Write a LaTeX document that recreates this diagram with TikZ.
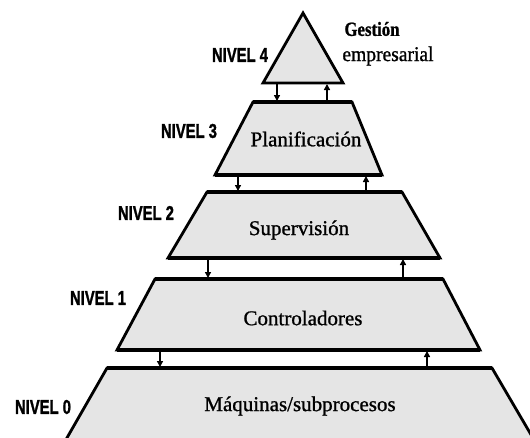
\documentclass[tikz,border=0pt]{standalone}
\usepackage{fontspec}
\setmainfont{Liberation Serif}[BoldFeatures={FakeBold=1.2}]
\newfontfamily\lblfont{Liberation Sans}[BoldFeatures={FakeBold=1.6}]
\newfontfamily\txtfont[FakeBold=1.0]{Liberation Serif}
\usetikzlibrary{arrows.meta}
\definecolor{layerfill}{gray}{0.90}
\tikzset{
  layer/.style={draw=black, line width=2.8pt, fill=layerfill, line join=miter},
  edgeline/.style={draw=black, line width=3.4pt},
  flow/.style={draw=black, line width=1.4pt, -{Triangle[length=6pt,width=6pt]}},
  lvl/.style={font=\lblfont\bfseries\fontsize{20}{22}\selectfont, inner sep=0pt},
  ttl/.style={font=\txtfont\fontsize{21}{23}\selectfont, inner sep=0pt}
}
\newcommand{\narrow}[1]{\scalebox{0.74}[1]{#1}}
\begin{document}
\begin{tikzpicture}[x=1pt,y=-1pt]
\useasboundingbox (0,0) rectangle (530,437);
\begin{scope}
\clip (0,0) rectangle (530,437);
% level 4 triangle
\path[layer] (303,13) -- (343,83) -- (263,83) -- cycle;
% level 3
\path[layer] (253,102) -- (352,102) -- (382,175) -- (215,175) -- cycle;
\draw[edgeline] (253,102) -- (352,102);
\draw[edgeline] (215,175) -- (382,175);
% level 2
\path[layer] (207,192) -- (402,192) -- (440,258) -- (168,258) -- cycle;
\draw[edgeline] (207,192) -- (402,192);
\draw[edgeline] (168,258) -- (440,258);
% level 1
\path[layer] (155,279) -- (443,279) -- (480,350) -- (117,350) -- cycle;
\draw[edgeline] (155,279) -- (443,279);
\draw[edgeline] (117,350) -- (480,350);
% level 0
\path[layer] (107,368) -- (492,368) -- (540,450) -- (60,450) -- cycle;
\draw[edgeline] (107,368) -- (492,368);
\end{scope}
% connector end points
\coordinate (a4d) at (277,84);  \coordinate (b3d) at (277,101);
\coordinate (a4u) at (327,84);  \coordinate (b3u) at (327,101);
\coordinate (a3d) at (238,176); \coordinate (b2d) at (238,191);
\coordinate (a3u) at (366,176); \coordinate (b2u) at (366,191);
\coordinate (a2d) at (208,259); \coordinate (b1d) at (208,278);
\coordinate (a2u) at (403,259); \coordinate (b1u) at (403,278);
\coordinate (a1d) at (160,351); \coordinate (b0d) at (160,367);
\coordinate (a1u) at (427,351); \coordinate (b0u) at (427,367);
\draw[flow] (a4d) -- (b3d);
\draw[flow] (b3u) -- (a4u);
\draw[flow] (a3d) -- (b2d);
\draw[flow] (b2u) -- (a3u);
\draw[flow] (a2d) -- (b1d);
\draw[flow] (b1u) -- (a2u);
\draw[flow] (a1d) -- (b0d);
\draw[flow] (b0u) -- (a1u);
% labels
\node[lvl] (n4) at (240,55) {\narrow{NIVEL 4}};
\node[lvl] (n3) at (189,131) {\narrow{NIVEL 3}};
\node[lvl] (n2) at (146,213) {\narrow{NIVEL 2}};
\node[lvl] (n1) at (98,298) {\narrow{NIVEL 1}};
\node[lvl] (n0) at (43,407) {\narrow{NIVEL 0}};
\node[ttl, font=\rmfamily\bfseries\fontsize{20}{22}\selectfont] (g1) at (372,29) {\scalebox{0.84}[1]{Gestión}};
\node[ttl] (g2) at (388,56) {\scalebox{0.93}[1]{empresarial}};
\node[ttl] (t3) at (306,139) {Planificación};
\node[ttl] (t2) at (299,230) {Supervisión};
\node[ttl] (t1) at (303,318) {Controladores};
\node[ttl] (t0) at (300,406) {Máquinas/subprocesos};
\end{tikzpicture}
\end{document}
